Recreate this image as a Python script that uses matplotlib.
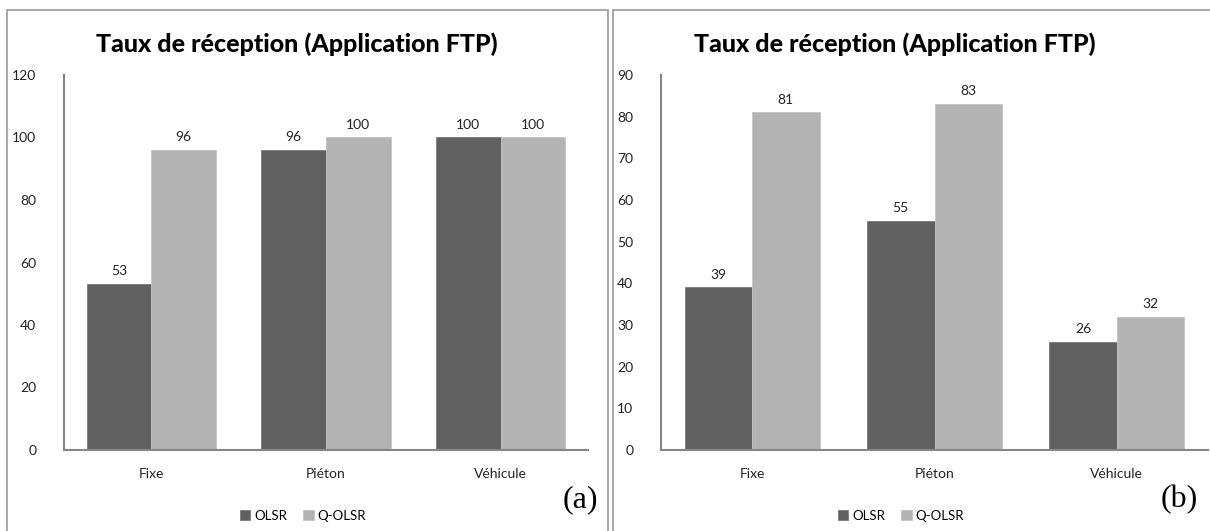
import matplotlib.pyplot as plt
from matplotlib.patches import Rectangle
import numpy as np

plt.rcParams['font.family'] = ['Lato', 'DejaVu Sans']

categories = ['Fixe', 'Piéton', 'Véhicule']
series_names = ['OLSR', 'Q-OLSR']
olsr_a = [53, 96, 100]
qolsr_a = [96, 100, 100]
olsr_b = [39, 55, 26]
qolsr_b = [81, 83, 32]
title = 'Taux de réception (Application FTP)'

dark = '#606060'
light = '#b3b3b3'
W, H = 1210, 531

fig = plt.figure(figsize=(W / 100, H / 100), dpi=100)

# panel frames (pixel coords -> figure fraction)
for x0, x1 in [(7, 608), (613, 1215)]:
    fig.patches.append(Rectangle((x0 / W, -0.01), (x1 - x0) / W, 1 - 10 / H + 0.01,
                                 transform=fig.transFigure, fill=False,
                                 edgecolor='#9a9a9a', linewidth=1.2))


def draw_panel(rect, olsr, qolsr, ymax, step, title_x, letter_x, letter):
    ax = fig.add_axes(rect)
    x = np.arange(len(categories))
    w = 0.37
    b1 = ax.bar(x - w / 2, olsr, w, color=dark, edgecolor='#7a7a7a', linewidth=0.6, label=series_names[0])
    b2 = ax.bar(x + w / 2, qolsr, w, color=light, edgecolor='#c4c4c4', linewidth=0.6, label=series_names[1])
    for bars in (b1, b2):
        for bar in bars:
            ax.annotate(f'{bar.get_height():.0f}', (bar.get_x() + bar.get_width() / 2, bar.get_height()),
                        xytext=(0, 5), textcoords='offset points', ha='center', va='bottom',
                        fontsize=10, color='#222222')
    ax.set_xlim(-0.5, len(categories) - 0.5)
    ax.set_ylim(0, ymax)
    ax.set_yticks(np.arange(0, ymax + 1, step))
    ax.set_xticks(x)
    ax.set_xticklabels(categories)
    ax.tick_params(length=0, labelsize=10, colors='#222222')
    ax.tick_params(axis='x', pad=13)
    ax.tick_params(axis='y', pad=20)
    for s in ['top', 'right']:
        ax.spines[s].set_visible(False)
    for s in ['left', 'bottom']:
        ax.spines[s].set_color('#868686')
        ax.spines[s].set_linewidth(1.5)
    fig.text(title_x / W, 1 - 44 / H, title, ha='center', va='center',
             fontsize=18, fontweight='black')
    ax.legend(loc='center', bbox_to_anchor=(title_x / W + 0.005, 1 - 516 / H),
              bbox_transform=fig.transFigure, ncol=2, frameon=False, fontsize=9.5,
              handlelength=0.8, handleheight=0.8, handletextpad=0.3, columnspacing=1.2)
    fig.text(letter_x / W, 1 - 500 / H, letter, ha='right', va='center',
             fontsize=23, family='Liberation Serif')
    return ax


draw_panel([64 / W, 81 / H, 524 / W, 375 / H], olsr_a, qolsr_a, 120, 20, 297, 598, '(a)')
draw_panel([661 / W, 81 / H, 547 / W, 375 / H], olsr_b, qolsr_b, 90, 10, 895, 1198, '(b)')

fig.savefig('out.png', dpi=100)
